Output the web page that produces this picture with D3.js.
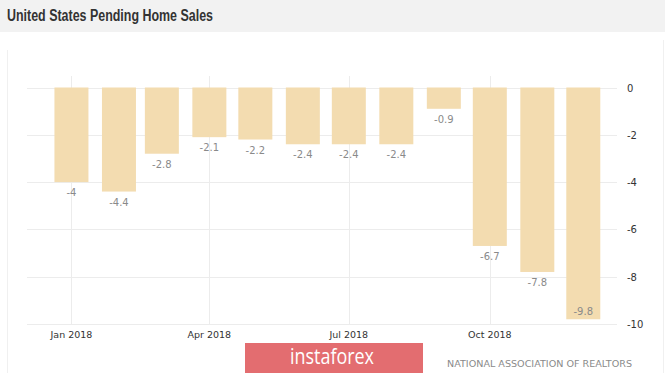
<!DOCTYPE html>
<html>
<head>
<meta charset="utf-8">
<script src="https://cdn.jsdelivr.net/npm/d3@7"></script>
<style>
  html, body { margin: 0; padding: 0; background: #fff; }
  svg { display: block; }
</style>
</head>
<body>
<div id="chart"></div>
<script>
(function () {
'use strict';

// data
var months = ['2018-01', '2018-02', '2018-03', '2018-04', '2018-05', '2018-06',
              '2018-07', '2018-08', '2018-09', '2018-10', '2018-11', '2018-12'];
var values = [-4, -4.4, -2.8, -2.1, -2.2, -2.4, -2.4, -2.4, -0.9, -6.7, -7.8, -9.8];
var yTicks = [0, -2, -4, -6, -8, -10];
var xTickMonths = ['2018-01', '2018-04', '2018-07', '2018-10'];

var width = 665, height = 373;
var barColor = '#f3dcb0',
    gridColor = '#ececec',
    labelGrey = '#8a8a8a',
    axisDark = '#333';

var parse = d3.timeParse('%Y-%m');
var dates = months.map(parse);

var plot = {left: 27, right: 617, top: 76, bottom: 324};

var svg = d3.select('#chart').append('svg')
    .attr('width', width)
    .attr('height', height);

// title band
svg.append('rect')
  .attr('width', width).attr('height', 32)
  .attr('fill', '#f2f2f2');

svg.append('text')
  .attr('x', 7).attr('y', 21)
  .attr('font-family', "'Liberation Sans', Arial, sans-serif")
  .attr('font-weight', 'bold')
  .attr('font-size', 16)
  .attr('fill', '#333')
  .attr('textLength', 206)
  .attr('lengthAdjust', 'spacingAndGlyphs')
  .text('United States Pending Home Sales');

// faint frame lines
svg.append('line')
  .attr('x1', 7.5).attr('x2', 7.5).attr('y1', 50).attr('y2', height)
  .attr('stroke', '#f0f0f0');
svg.append('line')
  .attr('x1', 663.5).attr('x2', 663.5).attr('y1', 40).attr('y2', height)
  .attr('stroke', '#f0f0f0');

// scales: time axis with some padding round the first and last month
var x = d3.scaleTime()
    .domain([d3.timeDay.offset(dates[0], -29), d3.timeDay.offset(dates[dates.length - 1], 22)])
    .range([plot.left, plot.right]);

var y = d3.scaleLinear()
    .domain([-10, 0])
    .range([plot.bottom, 87.5]);

var barW = 34;

// grid
svg.append('g').selectAll('line.h')
  .data(yTicks)
  .enter().append('line')
  .attr('x1', plot.left).attr('x2', plot.right)
  .attr('y1', function (d) { return Math.round(y(d)) + 0.5; })
  .attr('y2', function (d) { return Math.round(y(d)) + 0.5; })
  .attr('stroke', gridColor);

svg.append('g').selectAll('line.v')
  .data(xTickMonths.map(parse))
  .enter().append('line')
  .attr('x1', function (d) { return Math.round(x(d)) + 0.5; })
  .attr('x2', function (d) { return Math.round(x(d)) + 0.5; })
  .attr('y1', plot.top).attr('y2', plot.bottom)
  .attr('stroke', gridColor);

// bars
svg.append('g').selectAll('rect')
  .data(values)
  .enter().append('rect')
  .attr('x', function (d, i) { return x(dates[i]) - barW / 2; })
  .attr('y', y(0))
  .attr('width', barW)
  .attr('height', function (d) { return y(d) - y(0); })
  .attr('fill', barColor);

// value labels, under the bar end unless that runs off the plot
svg.append('g').selectAll('text')
  .data(values)
  .enter().append('text')
  .attr('x', function (d, i) { return x(dates[i]); })
  .attr('y', function (d) {
    var yy = y(d) + 14;
    return (yy > plot.bottom - 2) ? y(d) - 4 : yy;
  })
  .attr('text-anchor', 'middle')
  .attr('font-family', "'DejaVu Sans', sans-serif")
  .attr('font-size', 10)
  .attr('fill', labelGrey)
  .text(function (d) { return d; });

// y axis labels on the right
svg.append('g').selectAll('text')
  .data(yTicks)
  .enter().append('text')
  .attr('x', 627)
  .attr('y', function (d) { return y(d) + 4; })
  .attr('font-family', "'DejaVu Sans', sans-serif")
  .attr('font-size', 10)
  .attr('fill', axisDark)
  .text(function (d) { return d; });

// x axis labels
var fmt = d3.timeFormat('%b %Y');
svg.append('g').selectAll('text')
  .data(xTickMonths.map(parse))
  .enter().append('text')
  .attr('x', function (d) { return x(d); })
  .attr('y', 338)
  .attr('text-anchor', 'middle')
  .attr('font-family', "'DejaVu Sans', sans-serif")
  .attr('font-size', 9.5)
  .attr('fill', axisDark)
  .text(fmt);

// source
svg.append('text')
  .attr('x', 447).attr('y', 367)
  .attr('font-family', "'DejaVu Sans', sans-serif")
  .attr('font-size', 9)
  .attr('fill', labelGrey)
  .attr('textLength', 185)
  .attr('lengthAdjust', 'spacingAndGlyphs')
  .text('NATIONAL ASSOCIATION OF REALTORS');

// watermark
svg.append('rect')
  .attr('x', 245).attr('y', 343)
  .attr('width', 178).attr('height', 32)
  .attr('fill', '#e36d70');

svg.append('text')
  .attr('x', 290).attr('y', 364)
  .attr('font-family', "'Open Sans', sans-serif")
  .attr('font-size', 22)
  .attr('fill', '#fff')
  .attr('textLength', 84)
  .attr('lengthAdjust', 'spacingAndGlyphs')
  .text('instaforex');

})();
</script>
</body>
</html>
